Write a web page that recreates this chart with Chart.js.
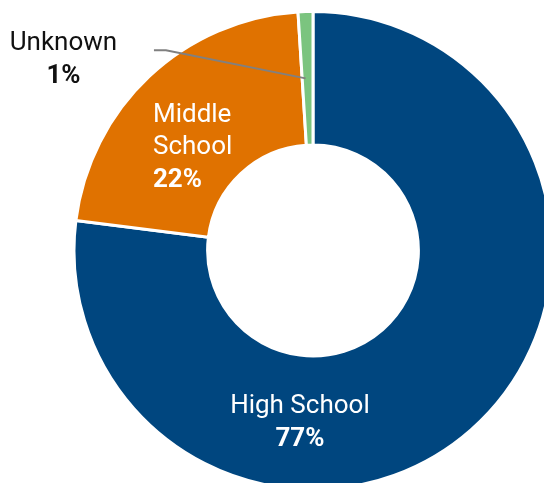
<!DOCTYPE html>
<html>
<head>
<meta charset="utf-8">
<title>Students by school level</title>
<script src="https://cdn.jsdelivr.net/npm/chart.js@4.4.1/dist/chart.umd.min.js"></script>
<style>
  html, body { margin: 0; padding: 0; background: #fff; overflow: hidden; }
  #wrap { width: 544px; height: 483px; }
</style>
</head>
<body>
<div id="wrap"><canvas id="levelChart" width="544" height="483"></canvas></div>
<script>
// Share of students by school level
const levels = ['High School', 'Middle School', 'Unknown'];
const shares = [77, 22, 1];
const labelLines = [['High School'], ['Middle', 'School'], ['Unknown']];

const sliceColors = ['#00467f', '#e07200', '#7bc47f'];

// where each label sits: angle (deg, clockwise from top) and distance from centre
const labelSpots = [
  { angle: 184.4, r: 170.5, color: '#fff', align: 'center' },
  { angle: 311.2, r: 160, color: '#fff', align: 'left' },
  { angle: 307.7, r: 315.4, color: '#111', align: 'center', leader: true }
];

const sliceLabels = {
  id: 'sliceLabels',
  afterDatasetsDraw(chart) {
    const ctx = chart.ctx;
    const arcs = chart.getDatasetMeta(0).data;
    const total = shares.reduce((a, b) => a + b, 0);
    const lineH = 32.5;
    const size = 26;

    arcs.forEach((arc, i) => {
      const spot = labelSpots[i];
      const a = spot.angle * Math.PI / 180;
      const cx = arc.x + spot.r * Math.sin(a);
      const cy = arc.y - spot.r * Math.cos(a);

      const lines = labelLines[i].map(t => ({ text: t, bold: false }));
      lines.push({ text: Math.round(shares[i] / total * 100) + '%', bold: true });

      ctx.save();
      ctx.textBaseline = 'alphabetic';
      ctx.fillStyle = spot.color;

      // left-aligned blocks are centred on their widest line
      let x = cx;
      if (spot.align === 'left') {
        ctx.font = size + 'px Roboto';
        const widest = Math.max(...lines.map(l => ctx.measureText(l.text).width));
        x = cx - widest / 2;
      }
      ctx.textAlign = spot.align;

      const top = cy - (lines.length - 1) * lineH / 2;
      lines.forEach((l, k) => {
        ctx.font = (l.bold ? 'bold ' : '') + size + 'px Roboto';
        ctx.fillText(l.text, x, top + k * lineH + 9);
      });

      if (spot.leader) {
        // leader line from the middle of the thin slice out to the label
        const mid = (arc.startAngle + arc.endAngle) / 2;
        const rMid = (arc.innerRadius + arc.outerRadius) / 2;
        const px = arc.x + rMid * Math.cos(mid) - 2;
        const py = arc.y + rMid * Math.sin(mid);
        ctx.strokeStyle = '#808080';
        ctx.lineWidth = 2;
        ctx.beginPath();
        ctx.moveTo(px, py);
        ctx.lineTo(cx + 102.5, top + 9);
        ctx.lineTo(cx + 90.5, top + 9);
        ctx.stroke();
      }
      ctx.restore();
    });
  }
};

new Chart(document.getElementById('levelChart'), {
  type: 'doughnut',
  data: {
    labels: levels,
    datasets: [{
      data: shares,
      backgroundColor: sliceColors,
      borderColor: '#ffffff',
      borderWidth: 3,
      clip: false
    }]
  },
  options: {
    responsive: false,
    animation: false,
    radius: 239,
    cutout: '44.1%',
    layout: { padding: { left: 82, top: 18, right: 0, bottom: 0 } },
    plugins: {
      legend: { display: false },
      tooltip: { enabled: false }
    }
  },
  plugins: [sliceLabels]
});
</script>
</body>
</html>
